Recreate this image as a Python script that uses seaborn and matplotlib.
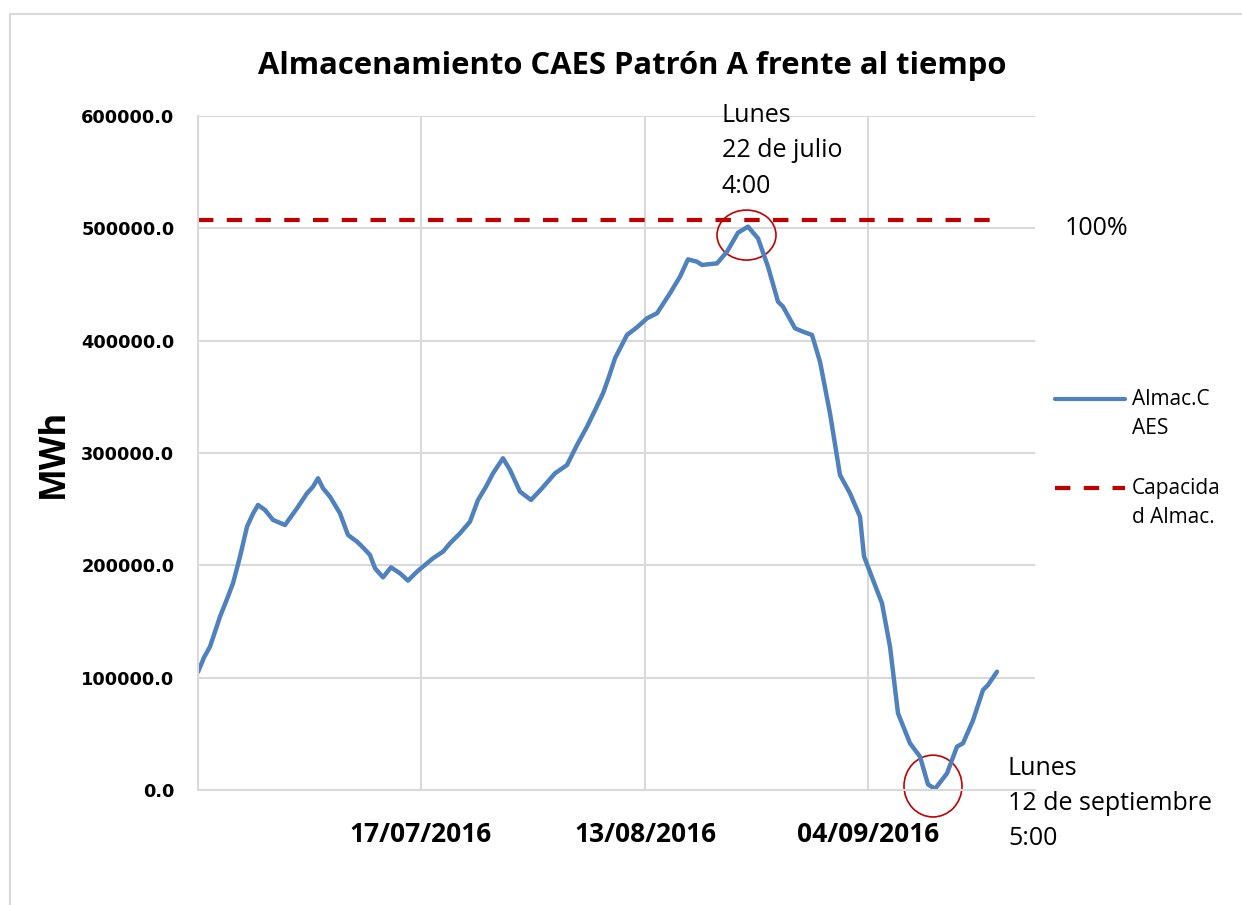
import matplotlib
matplotlib.use("Agg")
import matplotlib.pyplot as plt
import seaborn as sns
import pandas as pd
from matplotlib.lines import Line2D
from matplotlib.patches import Ellipse, Rectangle

# Storage series (position along category axis, MWh)
x_pos = [0, 6, 12, 22, 29, 35, 42, 49, 55, 60, 67, 75, 87, 99, 109, 115, 120,
         125, 132, 142, 150, 159, 166, 172, 177, 185, 193, 202, 210, 219, 235,
         245, 252, 262, 272, 280, 288, 295, 305, 312, 322, 333, 344, 357, 369,
         379, 389, 397, 405, 411, 417, 429, 439, 449, 459, 472, 482, 490, 499,
         504, 519, 529, 540, 550, 560, 570, 580, 585, 597, 605, 614, 622, 632,
         642, 652, 662, 666, 675, 684, 692, 700, 712, 722, 730, 737, 749, 759,
         765, 775, 785, 790, 799]
storage = [105000, 118000, 127600, 154300, 170000, 184000, 207700, 234400,
           246000, 253700, 249300, 240400, 235900, 250800, 264100, 270000,
           277500, 268600, 261100, 246300, 227000, 221100, 215000, 209200,
           197400, 189300, 198200, 192900, 186400, 194400, 206300, 212200,
           219600, 228500, 238900, 258200, 270000, 281900, 295300, 284900,
           265600, 258200, 268600, 281900, 289300, 307100, 323400, 338000,
           353100, 368000, 384300, 405100, 411900, 419900, 424400, 442200,
           457000, 472400, 470300, 467400, 468800, 479200, 496100, 501500,
           491100, 465900, 434700, 430300, 411000, 408000, 405100, 381300,
           335300, 280400, 264100, 243300, 208000, 187000, 166200, 127600,
           68300, 41600, 29700, 5000, 1000, 14800, 38600, 41600, 62000,
           89000, 93500, 105300]
capacity = 507000

tick_pos = [223, 447, 670]
tick_labels = ["17/07/2016", "13/08/2016", "04/09/2016"]
y_ticks = [0, 100000, 200000, 300000, 400000, 500000, 600000]

blue = "#4F81BD"
red = "#C00000"
grid = "#D9D9D9"

sns.set_style("white")
plt.rcParams["font.family"] = ["Open Sans", "DejaVu Sans"]
plt.rcParams["text.color"] = "black"
plt.rcParams["axes.labelcolor"] = "black"
plt.rcParams["xtick.color"] = "black"
plt.rcParams["ytick.color"] = "black"

df = pd.DataFrame({"x": x_pos, "storage": storage})
cap_df = pd.DataFrame({"x": [x_pos[0], x_pos[-1]], "cap": [capacity, capacity]})

fig = plt.figure(figsize=(12.42, 9.05), dpi=100)
ax = fig.add_axes([198 / 1242, 115 / 905, 837 / 1242, 674 / 905])

ax.set_axisbelow(True)
ax.grid(True, color=grid, lw=1.5)
sns.lineplot(data=df, x="x", y="storage", color=blue, lw=3.2, ax=ax)
ax.lines[-1].set_solid_joinstyle("round")
sns.lineplot(data=cap_df, x="x", y="cap", color=red, lw=3, ax=ax,
             dashes=False)
ax.lines[-1].set_dashes((3.7, 3.2))

ax.set_xlim(0, 837)
ax.set_ylim(0, 600000)
ax.set_xticks(tick_pos)
ax.set_xticklabels(tick_labels, fontsize=19, fontweight="bold",
                   family="Open Sans")
ax.set_yticks(y_ticks)
ax.set_yticklabels([f"{v:.1f}" for v in y_ticks], fontsize=12.8,
                   fontweight="bold", family="DejaVu Sans")
ax.tick_params(axis="x", length=0, pad=22)
ax.tick_params(axis="y", length=0, pad=17)
for s in ["top", "right"]:
    ax.spines[s].set_visible(False)
for s in ["left", "bottom"]:
    ax.spines[s].set_color(grid)
    ax.spines[s].set_linewidth(1.5)

ax.set_xlabel("")
ax.set_ylabel("MWh", fontsize=25, fontweight="bold")
ax.yaxis.set_label_coords(-126 / 837, 0.5)
ax.set_title("Almacenamiento CAES Patrón A frente al tiempo", fontsize=22.3,
             fontweight="bold", x=(632 - 198) / 837, pad=30)

# circles around max and min
ax.add_patch(Ellipse((548.5, 494000), 59, 44500, fill=False, ec=red, lw=1.2,
                     clip_on=False))
ax.add_patch(Ellipse((735, 3500), 58, 55000, fill=False, ec=red, lw=1.2,
                     clip_on=False))

ax.text(524, 569000, "Lunes\n22 de julio\n4:00", fontsize=18, ha="left",
        va="center", linespacing=1.55)
ax.text(810, -12000, "Lunes\n12 de septiembre\n5:00", fontsize=18,
        ha="left", va="center", linespacing=1.55, clip_on=False)
ax.text(867, 500000, "100%", fontsize=18, ha="left", va="center")

# legend
W, H = 1242, 905
fig.add_artist(Line2D([1055 / W, 1125 / W], [1 - 399 / H] * 2, color=blue,
                      lw=3, transform=fig.transFigure))
fig.add_artist(Line2D([1055 / W, 1125 / W], [1 - 488 / H] * 2, color=red,
                      lw=3, dashes=(3.7, 3.2), transform=fig.transFigure))
fig.text(1132 / W, 1 - 414 / H, "Almac.C\nAES", fontsize=15, ha="left",
         va="center", linespacing=1.55)
fig.text(1132 / W, 1 - 503 / H, "Capacida\nd Almac.", fontsize=15, ha="left",
         va="center", linespacing=1.55)

# outer chart frame
fig.add_artist(Rectangle((10 / W, -0.1), 1.2, 1 - 14 / H + 0.1, fill=False,
                         ec=grid, lw=1.5, transform=fig.transFigure))

fig.savefig("out.png", dpi=100)
